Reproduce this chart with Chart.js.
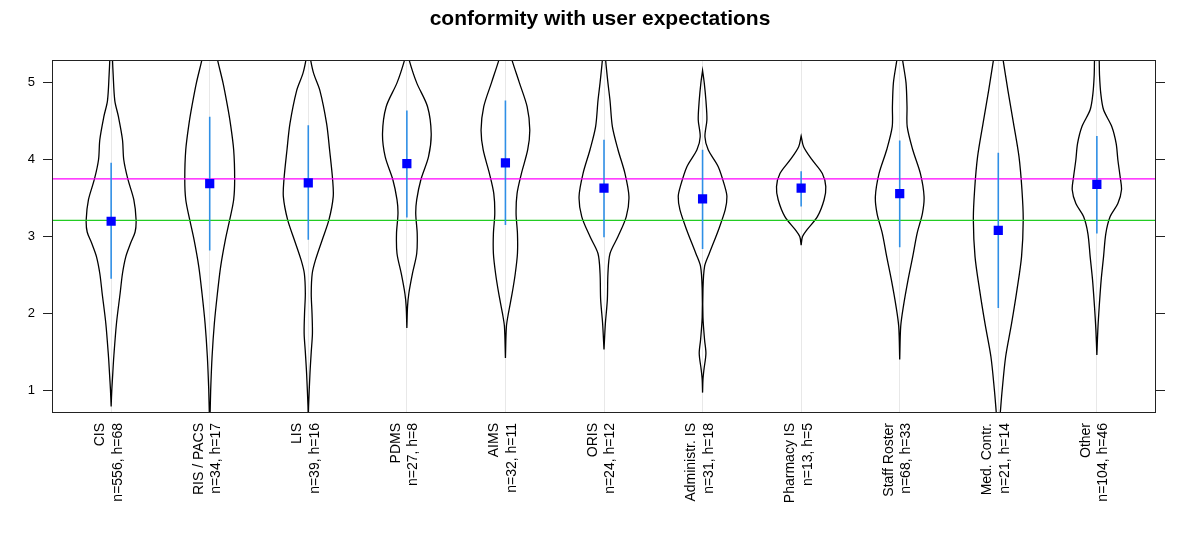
<!DOCTYPE html>
<html lang="en">
<head>
<meta charset="UTF-8">
<title>conformity with user expectations</title>
<script src="https://cdn.jsdelivr.net/npm/chart.js@4.4.0/dist/chart.umd.min.js"></script>
<style>
    html, body { margin: 0; padding: 0; background: #fff; }
    #wrap { width: 1200px; height: 545px; }
</style>
</head>
<body>
<div id="wrap"><canvas id="myChart" width="1200" height="545"></canvas></div>
<script>
// system names and group sizes (x axis labels)
const categories = ['CIS', 'RIS / PACS', 'LIS', 'PDMS', 'AIMS', 'ORIS', 'Administr. IS',
    'Pharmacy IS', 'Staff Roster', 'Med. Contr.', 'Other'];
const sampleSizes = ['n=556, h=68', 'n=34, h=17', 'n=39, h=16', 'n=27, h=8', 'n=32, h=11',
    'n=24, h=12', 'n=31, h=18', 'n=13, h=5', 'n=68, h=33', 'n=21, h=14', 'n=104, h=46'];

// mean score and interval per system
const means = [3.20, 3.69, 3.70, 3.95, 3.96, 3.63, 3.49, 3.63, 3.56, 3.08, 3.68];
const ciLow = [2.45, 2.82, 2.96, 3.25, 3.15, 2.99, 2.84, 3.39, 2.86, 2.07, 3.04];
const ciHigh = [3.96, 4.56, 4.45, 4.64, 4.77, 4.26, 4.13, 3.85, 4.25, 4.09, 4.31];

// reference lines (overall levels)
const refUpper = 3.75;
const refLower = 3.21;

const yTicks = [1, 2, 3, 4, 5];

// violin outlines: score level and density half-width read at that level
const violinLevels = [
    [0.79, 1.01, 1.23, 1.44, 1.87, 2.26, 2.52, 2.74, 2.91, 3.06, 3.22, 3.48, 3.75, 4.0, 4.26, 4.56, 4.77, 5.12, 5.29, 5.4],
    [0.6, 0.7, 1.01, 1.44, 1.87, 2.26, 2.61, 2.96, 3.22, 3.48, 3.75, 4.13, 4.47, 4.7, 5.0, 5.29, 5.4],
    [0.6, 0.79, 1.22, 1.5, 1.74, 2.0, 2.26, 2.52, 2.70, 2.96, 3.22, 3.52, 3.74, 4.13, 4.47, 4.9, 5.12, 5.29, 5.4],
    [1.81, 2.09, 2.26, 2.52, 2.78, 3.04, 3.30, 3.48, 3.74, 4.04, 4.34, 4.69, 5.0, 5.29, 5.4],
    [1.42, 1.83, 2.0, 2.26, 2.52, 2.78, 3.04, 3.30, 3.56, 3.82, 4.13, 4.39, 4.69, 5.0, 5.29, 5.4],
    [1.53, 1.87, 2.18, 2.52, 2.78, 3.0, 3.26, 3.52, 3.82, 4.13, 4.43, 4.77, 5.0, 5.29, 5.4],
    [0.97, 1.14, 1.27, 1.48, 1.66, 1.95, 2.31, 2.61, 2.78, 3.09, 3.35, 3.52, 3.65, 3.91, 4.13, 4.30, 4.52, 4.77, 5.0, 5.16],
    [2.89, 3.0, 3.09, 3.26, 3.48, 3.65, 3.82, 4.0, 4.17, 4.31],
    [1.40, 1.83, 2.09, 2.44, 2.74, 3.04, 3.30, 3.52, 3.82, 4.13, 4.43, 4.69, 5.0, 5.29, 5.4],
    [0.4, 0.705, 1.01, 1.44, 1.87, 2.31, 2.74, 3.22, 3.61, 4.04, 4.47, 4.90, 5.29, 5.4],
    [1.46, 1.79, 2.09, 2.44, 2.74, 3.04, 3.26, 3.43, 3.61, 3.78, 4.0, 4.21, 4.43, 4.65, 4.86, 5.1, 5.29, 5.4]
];
const violinWidths = [
    [0, 0.007, 0.017, 0.027, 0.054, 0.091, 0.115, 0.149, 0.196, 0.243, 0.253, 0.23, 0.169, 0.128, 0.115, 0.074, 0.037, 0.02, 0.014, 0.012],
    [0, 0.004, 0.01, 0.024, 0.047, 0.078, 0.111, 0.159, 0.203, 0.243, 0.253, 0.243, 0.21, 0.18, 0.135, 0.081, 0.065],
    [0, 0.003, 0.017, 0.03, 0.042, 0.038, 0.03, 0.04, 0.074, 0.142, 0.21, 0.253, 0.247, 0.216, 0.186, 0.118, 0.055, 0.025, 0.015],
    [0, 0.007, 0.02, 0.057, 0.10, 0.105, 0.09, 0.10, 0.142, 0.22, 0.247, 0.21, 0.10, 0.025, 0.01],
    [0, 0.01, 0.03, 0.068, 0.10, 0.122, 0.122, 0.108, 0.118, 0.162, 0.226, 0.247, 0.22, 0.142, 0.068, 0.045],
    [0, 0.014, 0.034, 0.04, 0.061, 0.142, 0.226, 0.253, 0.213, 0.142, 0.085, 0.061, 0.04, 0.017, 0.012],
    [0, 0.004, 0.014, 0.034, 0.02, 0.004, 0.004, 0.02, 0.068, 0.162, 0.23, 0.247, 0.226, 0.159, 0.057, 0.024, 0.044, 0.034, 0.017, 0],
    [0, 0.014, 0.06, 0.165, 0.233, 0.25, 0.215, 0.11, 0.025, 0],
    [0, 0.01, 0.037, 0.085, 0.132, 0.176, 0.23, 0.247, 0.21, 0.132, 0.076, 0.074, 0.064, 0.03, 0.02],
    [0, 0.02, 0.04, 0.075, 0.135, 0.19, 0.236, 0.253, 0.24, 0.21, 0.155, 0.098, 0.05, 0.035],
    [0, 0.01, 0.024, 0.044, 0.068, 0.091, 0.135, 0.213, 0.25, 0.236, 0.213, 0.196, 0.152, 0.068, 0.04, 0.027, 0.024, 0.02]
];

const xMin = 0.4, xMax = 11.6;
const yMin = 0.705, yMax = 5.295;

Chart.defaults.font.family = '"Liberation Sans", Arial, Helvetica, sans-serif';
Chart.defaults.color = '#000';

const datasets = [];

// mean squares (on top)
datasets.push({
    label: 'mean',
    data: means.map((m, i) => ({ x: i + 1, y: m })),
    pointStyle: 'rect',
    pointRadius: 6.5,
    pointHoverRadius: 6.5,
    backgroundColor: '#0000ff',
    borderWidth: 0,
    showLine: false
});

// interval bars, one gap between each
const barPoints = [];
ciLow.forEach((lo, i) => {
    barPoints.push({ x: i + 1, y: lo }, { x: i + 1, y: ciHigh[i] }, { x: i + 1.5, y: null });
});
datasets.push({
    label: 'interval',
    data: barPoints,
    showLine: true,
    spanGaps: false,
    borderColor: '#2f8fe6',
    borderWidth: 1.6,
    pointRadius: 0
});

// reference lines
[[refUpper, '#ff00ff'], [refLower, '#22cc22']].forEach(([v, col]) => {
    datasets.push({
        label: 'ref',
        data: [{ x: xMin, y: v }, { x: xMax, y: v }],
        showLine: true,
        borderColor: col,
        borderWidth: 1.2,
        pointRadius: 0
    });
});

// violins
violinLevels.forEach((lv, i) => {
    const w = violinWidths[i];
    const right = lv.map((v, k) => ({ x: i + 1 + w[k], y: v }));
    const left = lv.map((v, k) => ({ x: i + 1 - w[k], y: v })).reverse();
    datasets.push({
        label: categories[i],
        data: right.concat(left),
        showLine: true,
        borderColor: '#000',
        borderWidth: 1.3,
        tension: 0.3,
        pointRadius: 0,
        fill: false
    });
});

const frame = {
    id: 'frame',
    afterDraw(chart) {
        const a = chart.chartArea;
        const c = chart.ctx;
        c.save();
        c.strokeStyle = '#222';
        c.lineWidth = 1;
        c.strokeRect(Math.round(a.left) + 0.5, Math.round(a.top) + 0.5,
            Math.round(a.right - a.left) - 1, Math.round(a.bottom - a.top) - 1);
        c.restore();
    }
};

const yAxis = (pos) => ({
    type: 'linear',
    position: pos,
    min: yMin,
    max: yMax,
    afterBuildTicks: s => { s.ticks = yTicks.map(v => ({ value: v })); },
    afterFit: s => { s.width = pos === 'left' ? 52 : 44; },
    grid: { drawOnChartArea: false, tickLength: 9, color: '#222', lineWidth: 1 },
    border: { display: false },
    ticks: { display: pos === 'left', padding: 8, color: '#000', font: { size: 13 } }
});

new Chart(document.getElementById('myChart'), {
    type: 'scatter',
    data: { datasets: datasets },
    options: {
        responsive: false,
        animation: false,
        devicePixelRatio: 1,
        layout: { padding: 0 },
        plugins: {
            legend: { display: false },
            tooltip: { enabled: false },
            title: {
                display: true,
                text: 'conformity with user expectations',
                font: { size: 21, weight: 'bold', lineHeight: 1.2 },
                color: '#000',
                padding: { top: 7, bottom: 28 }
            }
        },
        scales: {
            x: {
                type: 'linear',
                min: xMin,
                max: xMax,
                afterBuildTicks: s => { s.ticks = categories.map((c, i) => ({ value: i + 1 })); },
                afterFit: s => { s.height = 132; },
                grid: { color: '#e8e8e8', drawTicks: false, lineWidth: 1 },
                border: { display: false },
                ticks: {
                    autoSkip: false,
                    minRotation: 90,
                    maxRotation: 90,
                    padding: 10,
                    labelOffset: -11,
                    color: '#000',
                    font: { size: 14, lineHeight: 1.25 },
                    callback: v => [categories[v - 1], sampleSizes[v - 1]]
                }
            },
            y: yAxis('left'),
            y2: yAxis('right')
        }
    },
    plugins: [frame]
});
</script>
</body>
</html>
